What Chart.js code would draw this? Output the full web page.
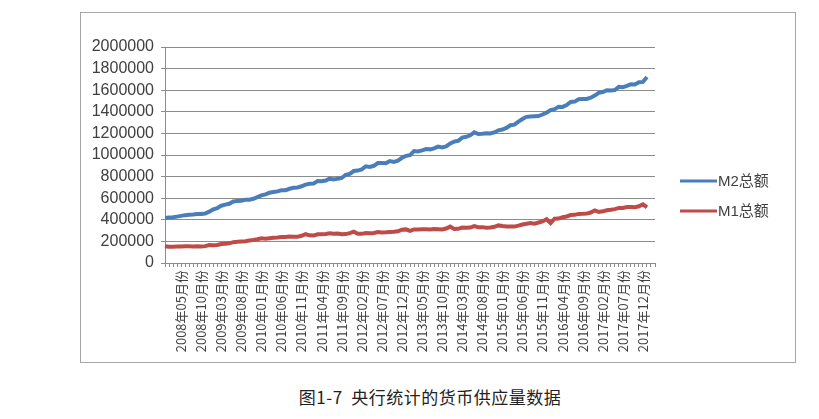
<!DOCTYPE html>
<html>
<head>
<meta charset="utf-8">
<script src="https://cdn.jsdelivr.net/npm/chart.js@4/dist/chart.umd.min.js"></script>
<style>
  body { margin: 0; background: #ffffff; width: 819px; height: 419px; position: relative; overflow: hidden; }
  .frame { position: absolute; left: 80px; top: 12px; width: 714px; height: 349px; border: 1px solid #a6a6a6; }
  .caption { position: absolute; left: 230px; top: 384px; width: 400px; text-align: center; letter-spacing: 0.5px;
             font-family: "Noto Sans CJK SC", sans-serif; font-size: 17px; color: #222; }
</style>
</head>
<body>
<div class="frame"><canvas id="chart" width="714" height="349"></canvas></div>
<div class="caption">图1-7&nbsp;&nbsp;央行统计的货币供应量数据</div>
<script>
// 2008年01月 .. 2018年01月, 亿元
const startYear = 2008;
const monthCount = 121;
const padMonths = 2; // empty room after the last month, like the original axis

const m2Total = [
  417846, 421037, 423054, 429313, 436221, 443141, 446362, 448846, 452898, 453133, 458644, 475166,
  496135, 506708, 530627, 540481, 548263, 568916, 573102, 576699, 585405, 586643, 594604, 610225,
  625609, 636072, 649947, 656562, 663352, 673922, 674051, 687506, 696471, 699777, 710339, 725852,
  733885, 736130, 758131, 757385, 763410, 780821, 772923, 780853, 787406, 816829, 825494, 851591,
  855898, 867171, 895565, 889605, 900049, 924992, 925375, 924611, 943689, 936405, 947000, 974149,
  992129, 998601, 1035858, 1032552, 1042169, 1054404, 1052212, 1061256, 1077379, 1070242, 1079258, 1106525,
  1123521, 1131760, 1160687, 1168813, 1182300, 1209587, 1194249, 1197499, 1202051, 1199236, 1208606, 1228375,
  1235656, 1250708, 1275332, 1280779, 1308573, 1333375, 1353211, 1356911, 1359824, 1361022, 1374942, 1392278,
  1416319, 1424619, 1446198, 1445200, 1461695, 1490492, 1494340, 1516360, 1519473, 1519527, 1530400, 1550067,
  1575945, 1582890, 1599609, 1596331, 1601358, 1631282, 1627858, 1639463, 1655662, 1653437, 1674008, 1676769,
  1722000
];

const m1Total = [
  154872, 150181, 150867, 151695, 153344, 154820, 154276, 153582, 155748, 153164, 156288, 166217,
  165214, 167014, 176490, 178214, 182025, 193138, 195889, 199547, 201708, 207545, 212539, 220002,
  229589, 224286, 229398, 233910, 236401, 240580, 240664, 244340, 243821, 243922, 251575, 266622,
  255862, 254250, 266255, 266766, 269290, 274663, 271113, 273498, 267193, 267779, 276553, 289847,
  270010, 270079, 277998, 275365, 278656, 287526, 283062, 284133, 286788, 288905, 293564, 308664,
  311228, 297133, 310898, 309889, 312336, 313499, 310667, 314085, 312330, 309984, 319419, 337291,
  314901, 316625, 327683, 325482, 327789, 341488, 331347, 332024, 327220, 329617, 335114, 348056,
  341968, 337210, 337210, 337253, 345700, 356083, 364041, 370881, 364416, 375381, 384693, 405000,
  370000, 410000, 411000, 424000, 431000, 443600, 445700, 454500, 455000, 457100, 467100, 486557,
  472800, 478400, 488800, 492300, 499000, 510200, 510200, 518600, 517800, 517300, 525300, 543790,
  515000
];

const seriesNames = ['M2总额', 'M1总额'];
const seriesColors = ['#4a7ebb', '#be4b48'];

const yMin = 0;
const yMax = 2000000;
const yStep = 200000;

// 月份标签
const monthLabels = [];
for (let i = 0; i < monthCount + padMonths; i++) {
  const y = startYear + Math.floor(i / 12);
  const m = (i % 12) + 1;
  monthLabels.push(`${y}年${m < 10 ? '0' + m : m}月份`);
}

const axisGray = '#8c8c8c';
const textGray = '#404040';

// legend drawn at the right like the original
const sideLegend = {
  id: 'sideLegend',
  afterDraw(chart) {
    const ctx = chart.ctx;
    ctx.save();
    chart.data.datasets.forEach((ds, i) => {
      const y = 168 + i * 30;
      ctx.strokeStyle = ds.borderColor;
      ctx.lineWidth = 3;
      ctx.beginPath();
      ctx.moveTo(599, y);
      ctx.lineTo(636, y);
      ctx.stroke();
      ctx.fillStyle = textGray;
      ctx.font = '15px "Liberation Sans", "Noto Sans CJK SC", sans-serif';
      ctx.textBaseline = 'middle';
      ctx.textAlign = 'left';
      ctx.fillText(ds.label, 637, y + 1);
    });
    ctx.restore();
  }
};

new Chart(document.getElementById('chart'), {
  type: 'line',
  data: {
    labels: monthLabels,
    datasets: [
      {
        label: seriesNames[0],
        data: m2Total,
        borderColor: seriesColors[0],
        backgroundColor: seriesColors[0],
        borderWidth: 4,
        pointRadius: 0,
        tension: 0,
      },
      {
        label: seriesNames[1],
        data: m1Total,
        borderColor: seriesColors[1],
        backgroundColor: seriesColors[1],
        borderWidth: 4,
        pointRadius: 0,
        tension: 0,
      },
    ]
  },
  options: {
    responsive: false,
    animation: false,
    layout: {
      padding: { top: 34, right: 140, left: 0, bottom: 0 }
    },
    scales: {
      x: {
        type: 'category',
        offset: false,
        afterFit(scale) { scale.height = 99; },
        border: { color: axisGray, width: 1 },
        grid: {
          drawOnChartArea: false,
          drawTicks: true,
          tickLength: 4,
          color: axisGray,
        },
        ticks: {
          autoSkip: false,
          maxRotation: 90,
          minRotation: 90,
          padding: 3,
          color: textGray,
          font: { family: '"Noto Sans CJK SC", sans-serif', size: 13 },
          callback: function (value, index) {
            return index % 5 === 4 ? this.getLabelForValue(value) : '';
          }
        }
      },
      y: {
        min: yMin,
        max: yMax,
        afterFit(scale) { scale.width = 84; },
        border: { color: axisGray, width: 1 },
        grid: {
          color: axisGray,
          drawTicks: true,
          tickLength: 4,
        },
        ticks: {
          stepSize: yStep,
          autoSkip: false,
          padding: 7,
          color: textGray,
          font: { family: '"Liberation Sans", sans-serif', size: 16 },
          callback: (v) => String(v)
        }
      }
    },
    plugins: {
      legend: { display: false },
      tooltip: { enabled: false },
    }
  },
  plugins: [sideLegend]
});
</script>
</body>
</html>
